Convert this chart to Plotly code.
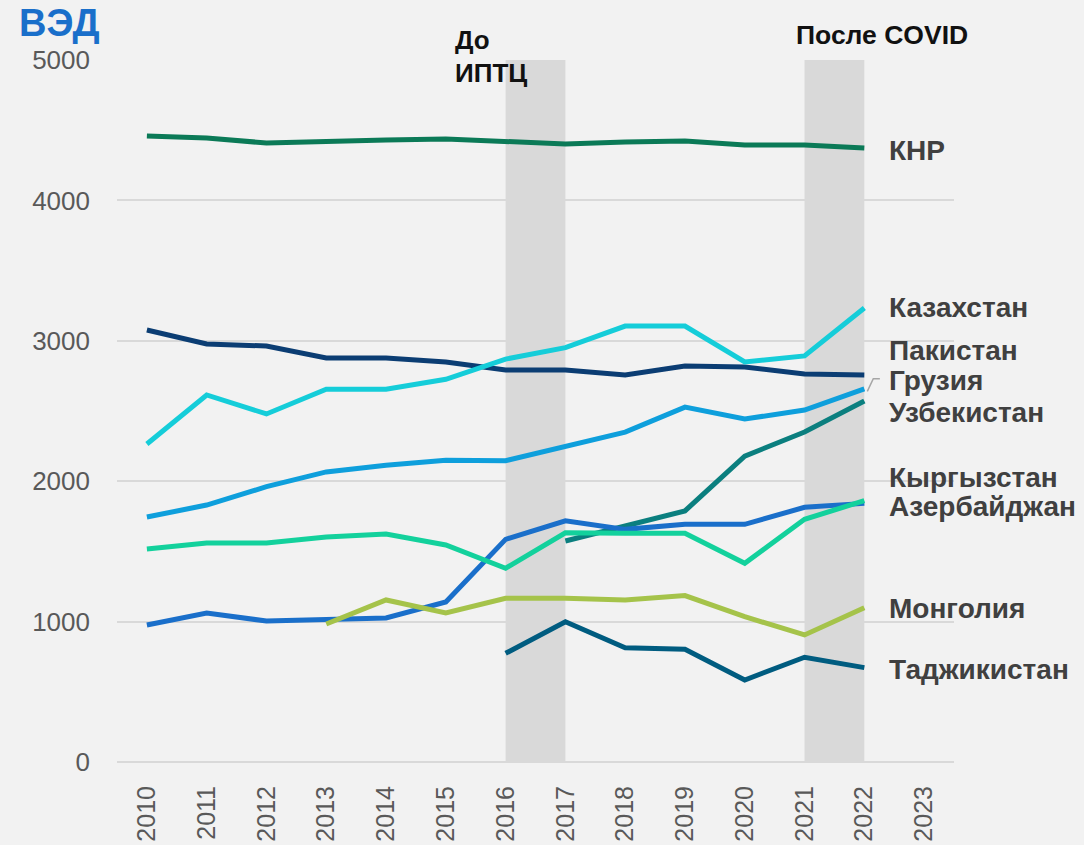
import plotly.graph_objects as go

years = list(range(2010, 2023))
tick_years = list(range(2010, 2024))

china = [4459, 4444, 4409, 4423, 4430, 4437, 4416, 4402, 4416, 4423, 4395, 4395, 4373]
pakistan = [3077, 2977, 2963, 2877, 2877, 2849, 2792, 2792, 2756, 2820, 2813, 2764, 2756]
kazakhstan = [2265, 2614, 2479, 2655, 2655, 2726, 2870, 2951, 3105, 3105, 2849, 2892, 3234]
georgia = [1745, 1830, 1961, 2066, 2113, 2149, 2146, 2246, 2350, 2528, 2443, 2507, 2657]
uzbekistan = [None, None, None, None, None, None, None, 1574, 1681, 1788, 2179, 2350, 2571]
kyrgyzstan = [976, 1061, 1004, 1018, 1026, 1140, 1586, 1718, 1657, 1693, 1693, 1814, 1842]
azerbaijan = [1517, 1560, 1560, 1603, 1624, 1546, 1380, 1633, 1629, 1629, 1415, 1729, 1861]
mongolia = [None, None, None, 983, 1154, 1061, 1166, 1166, 1154, 1185, 1035, 905, 1099]
tajikistan = [None, None, None, None, None, None, 774, 999, 814, 803, 584, 746, 672]

series = [
    ("КНР", china, "#0b7a57"),
    ("Пакистан", pakistan, "#0b3d73"),
    ("Казахстан", kazakhstan, "#15cdd9"),
    ("Грузия", georgia, "#0e9fdc"),
    ("Узбекистан", uzbekistan, "#0b7f7f"),
    ("Кыргызстан", kyrgyzstan, "#1a6fca"),
    ("Азербайджан", azerbaijan, "#13d19c"),
    ("Монголия", mongolia, "#a5c34a"),
    ("Таджикистан", tajikistan, "#005c80"),
]

label_names = ["КНР", "Казахстан", "Пакистан", "Грузия", "Узбекистан",
               "Кыргызстан", "Азербайджан", "Монголия", "Таджикистан"]
label_y = [4359, 3234, 2934, 2714, 2486, 2023, 1823, 1090, 662]

FONT = "Liberation Sans, Arial, sans-serif"

fig = go.Figure()
for name, vals, color in series:
    fig.add_trace(go.Scatter(x=years, y=vals, mode="lines", name=name,
                             line=dict(color=color, width=5),
                             connectgaps=False, hoverinfo="x+y+name"))

# shaded periods
for x0, x1 in [(2016, 2017), (2021, 2022)]:
    fig.add_shape(type="rect", x0=x0, x1=x1, y0=0, y1=5000, xref="x", yref="y",
                  fillcolor="#d9d9d9", line=dict(width=0), layer="below")

# leader line for Грузия
fig.add_shape(type="path", path="M 2022.05,2640 L 2022.15,2730 L 2022.26,2730",
              xref="x", yref="y", line=dict(color="#a6a6a6", width=1.5))

annotations = []
for nm, yv in zip(label_names, label_y):
    annotations.append(dict(x=2022.38, y=yv, xref="x", yref="y", text=nm,
                            showarrow=False, xanchor="left", yanchor="middle",
                            font=dict(family=FONT, size=28, color="#404040", weight="bold")))

annotations += [
    dict(x=-0.119, y=1.0525, xref="paper", yref="paper", text="ВЭД", showarrow=False,
         xanchor="left", yanchor="middle",
         font=dict(family=FONT, size=38, color="#1a6fca", weight="bold")),
    dict(x=2015.12, y=1.0285, xref="x", yref="paper", text="До", showarrow=False,
         xanchor="left", yanchor="middle",
         font=dict(family=FONT, size=26, color="#111111", weight="bold")),
    dict(x=2015.12, y=0.982, xref="x", yref="paper", text="ИПТЦ", showarrow=False,
         xanchor="left", yanchor="middle",
         font=dict(family=FONT, size=26, color="#111111", weight="bold")),
    dict(x=2022.29, y=1.036, xref="x", yref="paper", text="После COVID", showarrow=False,
         xanchor="center", yanchor="middle",
         font=dict(family=FONT, size=26.5, color="#111111", weight="bold")),
]

fig.update_layout(
    width=1084, height=845,
    margin=dict(l=117, r=130, t=60, b=83, autoexpand=False),
    paper_bgcolor="#f2f2f2", plot_bgcolor="#f2f2f2",
    showlegend=False,
    annotations=annotations,
    font=dict(family=FONT),
)
fig.update_xaxes(range=[2009.5, 2023.5], tickmode="array", tickvals=tick_years,
                 ticktext=[str(y) for y in tick_years], tickangle=-90,
                 showgrid=False, zeroline=False, showline=False, ticks="",
                 ticklabelstandoff=18, automargin=False,
                 tickfont=dict(family=FONT, size=25, color="#595959"))
fig.update_yaxes(range=[0, 5000], tickmode="array", tickvals=[0, 1000, 2000, 3000, 4000, 5000],
                 showgrid=True, gridcolor="#d9d9d9", gridwidth=1.5,
                 zeroline=True, zerolinecolor="#d9d9d9", zerolinewidth=1.5,
                 showline=False, ticks="", ticklabelstandoff=26, automargin=False,
                 tickfont=dict(family=FONT, size=26, color="#595959"))

fig.write_html("out.html", config={"displayModeBar": False},
               post_script="document.body.style.margin='0';document.body.style.padding='0';"
                           "document.body.style.background='#f2f2f2';"
                           "document.documentElement.style.overflow='hidden';")
